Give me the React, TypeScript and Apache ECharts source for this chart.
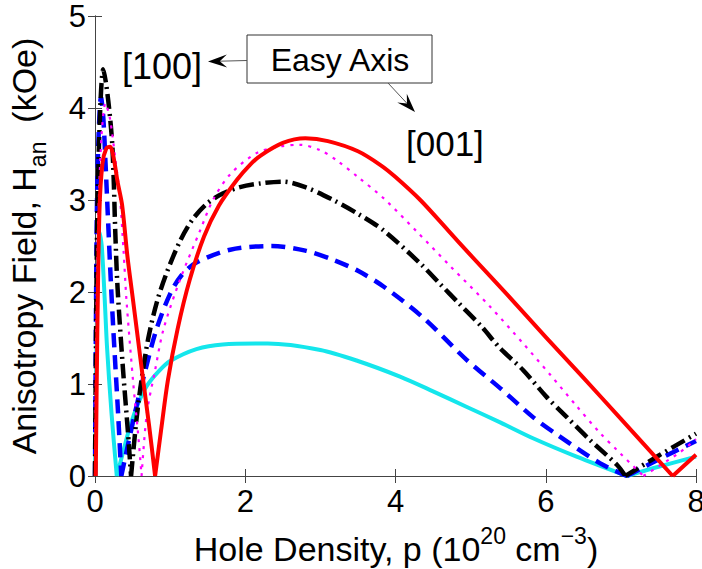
import React, { useEffect, useRef } from "react";
import * as echarts from "echarts";

// ---- data (x: hole density 1e20 cm^-3, y: H_an kOe) ----
const xTicks = { min: 0, max: 8, interval: 2 };
const yTicks = { min: 0, max: 5, interval: 1 };

const cyanData: number[][] = [
  [0, 0], [0.03, 2.0], [0.06, 2.65], [0.09, 2.5], [0.13, 1.91], [0.16, 1.4], [0.22, 0.68], [0.29, 0],
  [0.38, 0.28], [0.47, 0.55], [0.58, 0.8], [0.69, 0.98], [0.85, 1.14], [1.0, 1.25], [1.35, 1.38],
  [1.7, 1.43], [2.3, 1.44], [3.0, 1.37], [3.5, 1.25], [4.06, 1.08], [4.5, 0.92], [4.95, 0.75],
  [5.4, 0.58], [5.83, 0.41], [6.41, 0.21], [7.08, 0], [7.5, 0.1], [8, 0.21],
];

const blueData: number[][] = [
  [0, 0], [0.02, 2.5], [0.04, 3.5], [0.08, 4.12], [0.11, 3.9], [0.14, 3.4], [0.17, 2.85], [0.2, 2.3],
  [0.24, 1.65], [0.31, 0.64], [0.35, 0], [0.45, 0.38], [0.55, 0.75], [0.67, 1.15], [0.82, 1.6],
  [1.0, 1.98], [1.15, 2.18], [1.35, 2.32], [1.8, 2.46], [2.35, 2.5], [2.8, 2.45], [3.17, 2.35],
  [3.5, 2.23], [3.84, 2.06], [4.37, 1.72], [4.95, 1.26], [5.4, 0.95], [5.83, 0.64], [6.15, 0.45],
  [6.72, 0.14], [7.08, 0], [7.5, 0.18], [8, 0.38],
];

const blackData: number[][] = [
  [0, 0], [0.03, 2.8], [0.07, 4.0], [0.11, 4.42], [0.15, 4.25], [0.2, 3.9], [0.23, 3.6], [0.25, 3.2],
  [0.27, 2.65], [0.3, 2.05], [0.37, 1.19], [0.44, 0.46], [0.48, 0], [0.55, 0.6], [0.62, 1.05],
  [0.71, 1.5], [0.82, 1.88], [0.95, 2.2], [1.13, 2.55], [1.3, 2.79], [1.49, 2.96], [1.7, 3.07],
  [1.93, 3.14], [2.2, 3.18], [2.5, 3.2], [2.8, 3.14], [3.17, 3.0], [3.5, 2.85], [3.84, 2.67],
  [4.33, 2.31], [4.59, 2.09], [4.84, 1.88], [5.15, 1.62], [5.39, 1.39], [5.7, 1.15], [6.01, 0.86],
  [6.28, 0.64], [6.59, 0.39], [6.95, 0.12], [7.06, 0], [7.5, 0.22], [8, 0.46],
];

const magentaData: number[][] = [
  [0, 0], [0.03, 2.3], [0.08, 3.6], [0.14, 4.05], [0.2, 3.88], [0.27, 3.45], [0.33, 3.05], [0.38, 2.45],
  [0.42, 1.9], [0.51, 1.0], [0.58, 0.4], [0.62, 0], [0.69, 0.68], [0.8, 1.15], [0.91, 1.59],
  [1.13, 2.13], [1.4, 2.67], [1.57, 3.0], [1.8, 3.28], [2.15, 3.51], [2.45, 3.58], [2.73, 3.6],
  [3.0, 3.54], [3.22, 3.43], [3.5, 3.25], [3.84, 3.02], [4.28, 2.66], [4.73, 2.28], [5.26, 1.84],
  [5.7, 1.44], [6.06, 1.1], [6.4, 0.77], [6.72, 0.47], [6.95, 0.28], [7.3, 0], [7.79, 0.26], [8, 0.4],
];

const redData: number[][] = [
  [0.01, 0], [0.03, 1.5], [0.06, 2.9], [0.1, 3.4], [0.15, 3.56], [0.2, 3.58], [0.25, 3.45], [0.3, 3.2],
  [0.36, 2.95], [0.43, 2.4], [0.5, 1.95], [0.57, 1.5], [0.64, 1.05], [0.72, 0.55], [0.8, 0],
  [0.88, 0.5], [0.97, 1.04], [1.1, 1.6], [1.26, 2.13], [1.45, 2.6], [1.65, 2.94], [1.89, 3.22],
  [2.06, 3.38], [2.2, 3.48], [2.5, 3.62], [2.8, 3.67], [3.1, 3.64], [3.5, 3.53], [3.8, 3.38],
  [4.0, 3.25], [4.33, 3.0], [4.7, 2.67], [5.0, 2.4], [5.5, 1.96], [6.0, 1.51], [6.5, 1.07],
  [7.0, 0.62], [7.69, 0], [8, 0.23],
];

const FONT = "'Liberation Sans', Arial, sans-serif";

// split a curve at its interior zeros (cusps) so smoothing keeps the V sharp
function withCusps(data: number[][]): (number | null)[][] {
  const out: (number | null)[][] = [];
  data.forEach((p, i) => {
    out.push(p);
    if (p[1] === 0 && i > 0 && i < data.length - 1) {
      out.push([p[0], null]);
      out.push(p);
    }
  });
  return out;
}

function arrow(x1: number, y1: number, tx: number, ty: number) {
  const dx = tx - x1;
  const dy = ty - y1;
  const len = Math.hypot(dx, dy);
  const ux = dx / len;
  const uy = dy / len;
  const nx = -uy;
  const ny = ux;
  const L = 19;
  const W = 6.5;
  const bx = tx - ux * L;
  const by = ty - uy * L;
  const notchX = tx - ux * L * 0.62;
  const notchY = ty - uy * L * 0.62;
  return [
    {
      type: "line",
      shape: { x1, y1, x2: notchX, y2: notchY },
      style: { stroke: "#555", lineWidth: 1 },
      z: 100,
    },
    {
      type: "polygon",
      shape: {
        points: [
          [tx, ty],
          [bx + nx * W, by + ny * W],
          [notchX, notchY],
          [bx - nx * W, by - ny * W],
        ],
      },
      style: { fill: "#000" },
      z: 100,
    },
  ];
}

export default function App() {
  const ref = useRef<HTMLDivElement>(null);

  useEffect(() => {
    document.body.style.margin = "0";
    document.body.style.overflow = "hidden";
    if (!ref.current) return;
    const chart = echarts.init(ref.current, undefined, { renderer: "svg" });

    const axisLine = { show: true, lineStyle: { color: "#444", width: 1 } };
    const axisTick = { show: true, inside: true, length: 7, lineStyle: { color: "#444", width: 1 } };
    const tickLabel = { color: "#000", fontSize: 31, fontFamily: FONT };

    const mk = (name: string, data: number[][], color: string, width: number, type: any) => ({
      name,
      type: "line",
      data: withCusps(data),
      showSymbol: false,
      symbol: "none",
      smooth: 0.3,
      connectNulls: false,
      lineStyle: { color, width, type, cap: "butt", join: "round" },
      z: 2,
    });

    chart.setOption({
      animation: false,
      backgroundColor: "#fff",
      grid: {
        left: 95,
        right: 6,
        top: 16,
        bottom: 93,
        containLabel: false,
        outerBoundsMode: "none",
      },
      xAxis: [
        {
          type: "value",
          position: "bottom",
          ...xTicks,
          axisLine,
          axisTick,
          splitLine: { show: false },
          axisLabel: { ...tickLabel, margin: 10 },
        },
        {
          type: "value",
          position: "top",
          ...xTicks,
          axisLine,
          axisTick,
          splitLine: { show: false },
          axisLabel: { show: false },
        },
      ],
      yAxis: [
        {
          type: "value",
          position: "left",
          ...yTicks,
          axisLine,
          axisTick,
          splitLine: { show: false },
          axisLabel: { ...tickLabel, margin: 9 },
        },
        {
          type: "value",
          position: "right",
          ...yTicks,
          axisLine,
          axisTick,
          splitLine: { show: false },
          axisLabel: { show: false },
        },
      ],
      series: [
        mk("cyan", cyanData, "#14e6ec", 4, "solid"),
        mk("blue", blueData, "#0000ff", 4.5, [14, 8]),
        mk("black", blackData, "#000000", 4.5, [15, 5, 2, 5]),
        mk("magenta", magentaData, "#ff00ff", 2.2, [3, 6]),
        mk("red", redData, "#ff0000", 4, "solid"),
      ],
      graphic: [
        {
          type: "text",
          x: 396,
          y: 545,
          style: {
            text: "{m|Hole Density, p (10}{s|20}{m| cm}{s|−3}{m|)}",
            align: "center",
            verticalAlign: "middle",
            rich: {
              m: { fontSize: 34, fontFamily: FONT, fill: "#000", lineHeight: 42, verticalAlign: "bottom" },
              s: { fontSize: 23, fontFamily: FONT, fill: "#000", lineHeight: 23, verticalAlign: "top" },
            },
          },
          z: 100,
        },
        {
          type: "text",
          x: 28,
          y: 246,
          rotation: Math.PI / 2,
          style: {
            text: "{m|Anisotropy Field, H}{s|an}{m|  (kOe)}",
            align: "center",
            verticalAlign: "middle",
            rich: {
              m: { fontSize: 34, fontFamily: FONT, fill: "#000", lineHeight: 42, verticalAlign: "top" },
              s: { fontSize: 23, fontFamily: FONT, fill: "#000", lineHeight: 23, verticalAlign: "bottom" },
            },
          },
          z: 100,
        },
        {
          type: "text",
          x: 122,
          y: 66,
          style: {
            text: "[100]",
            font: `36px ${FONT}`,
            fill: "#000",
            align: "left",
            verticalAlign: "middle",
          },
          z: 100,
        },
        {
          type: "rect",
          shape: { x: 247, y: 35, width: 185, height: 48 },
          style: { fill: "#fff", stroke: "#333", lineWidth: 1 },
          z: 100,
        },
        {
          type: "text",
          x: 340,
          y: 60,
          style: {
            text: "Easy Axis",
            font: `32px ${FONT}`,
            fill: "#000",
            align: "center",
            verticalAlign: "middle",
          },
          z: 101,
        },
        ...arrow(247, 60.5, 208, 61.5),
        ...arrow(388, 83, 415, 112),
        {
          type: "text",
          x: 406,
          y: 143,
          style: {
            text: "[001]",
            font: `35px ${FONT}`,
            fill: "#000",
            align: "left",
            verticalAlign: "middle",
          },
          z: 100,
        },
      ],
    });

    return () => chart.dispose();
  }, []);

  return <div ref={ref} style={{ width: 702, height: 569 }} />;
}
